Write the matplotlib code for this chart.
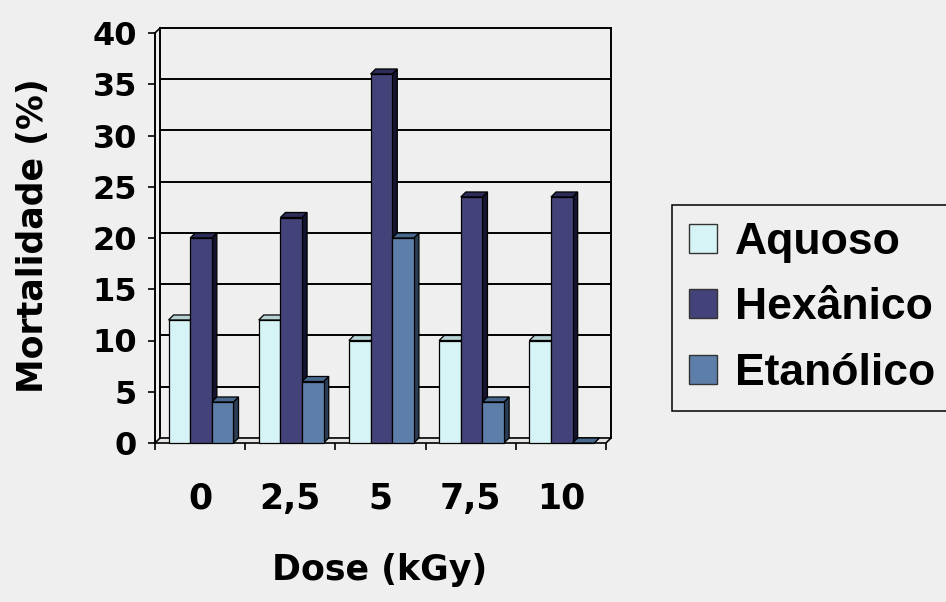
"""
Mortalidade por dose - colunas 3D no estilo Excel
"""
import matplotlib
matplotlib.use('Agg')
import matplotlib.pyplot as plt
from matplotlib.patches import Polygon, Patch

doses = ['0', '2,5', '5', '7,5', '10']
series = ['Aquoso', 'Hexânico', 'Etanólico']
aquoso = [12, 12, 10, 10, 10]
hexanico = [20, 22, 36, 24, 24]
etanolico = [4, 6, 20, 4, 0]

front_colors = ['#d6f3f5', '#434379', '#5d7ea8']
side_colors = ['#8eaeb1', '#141430', '#2b3d55']
top_colors = ['#b7d2d4', '#2c2c58', '#48688e']

BG = '#efefef'
DEPTH_X = 0.056
DEPTH_Y = 0.49
BAR_W = 0.24
OFFSETS = [0.15, 0.39, 0.63]
AXIS_FONT = ['DejaVu Sans']
LEGEND_FONT = ['Liberation Sans', 'DejaVu Sans']


def draw_bar(ax, x0, value, k, z):
    x1 = x0 + BAR_W
    side = Polygon([(x1, 0), (x1 + DEPTH_X, DEPTH_Y),
                    (x1 + DEPTH_X, value + DEPTH_Y), (x1, value)],
                   closed=True, facecolor=side_colors[k], edgecolor='black',
                   linewidth=0.9, zorder=z, clip_on=False)
    top = Polygon([(x0, value), (x0 + DEPTH_X, value + DEPTH_Y),
                   (x1 + DEPTH_X, value + DEPTH_Y), (x1, value)],
                  closed=True, facecolor=top_colors[k], edgecolor='black',
                  linewidth=0.9, zorder=z, clip_on=False)
    ax.add_patch(side)
    ax.add_patch(top)
    ax.bar(x0, value, BAR_W, align='edge', color=front_colors[k],
           edgecolor='black', linewidth=0.9, zorder=z + 0.5, clip_on=False)


def back_wall(ax, n):
    # floor
    floor = Polygon([(0, 0), (n, 0), (n + DEPTH_X, DEPTH_Y), (DEPTH_X, DEPTH_Y)],
                    closed=True, facecolor='#e4e4e4', edgecolor='black',
                    linewidth=1.2, zorder=1, clip_on=False)
    ax.add_patch(floor)
    # grid on the back wall
    for y in range(5, 45, 5):
        ax.plot([DEPTH_X, n + DEPTH_X], [y + DEPTH_Y, y + DEPTH_Y],
                color='black', linewidth=1.4, zorder=1, clip_on=False)
    ax.plot([DEPTH_X, DEPTH_X], [DEPTH_Y, 40 + DEPTH_Y],
            color='black', linewidth=1.4, zorder=1, clip_on=False)
    ax.plot([n + DEPTH_X, n + DEPTH_X], [DEPTH_Y, 40 + DEPTH_Y],
            color='black', linewidth=1.4, zorder=1, clip_on=False)
    ax.plot([0, DEPTH_X], [40, 40 + DEPTH_Y],
            color='black', linewidth=1.2, zorder=1, clip_on=False)


def main():
    fig = plt.figure(figsize=(9.46, 6.02), dpi=100, facecolor=BG)
    ax = fig.add_axes([155 / 946, 159 / 602, 451 / 946, 410 / 602])
    ax.set_facecolor('none')

    n = len(doses)
    back_wall(ax, n)

    values = [aquoso, hexanico, etanolico]
    z = 2
    for i in range(n):
        for k in range(len(series)):
            draw_bar(ax, i + OFFSETS[k], values[k][i], k, z)
            z += 1

    ax.set_xlim(0, n)
    ax.set_ylim(0, 40)
    for side in ('top', 'right', 'bottom'):
        ax.spines[side].set_visible(False)
    ax.spines['left'].set_linewidth(1.4)

    ax.set_yticks(range(0, 45, 5))
    ax.set_yticklabels([str(v) for v in range(0, 45, 5)],
                       fontfamily=AXIS_FONT, fontweight='bold', fontsize=23)
    ax.tick_params(axis='y', length=5, width=1.2, pad=8)

    ax.set_xticks(range(n + 1))
    ax.set_xticklabels([])
    ax.set_xticks([i + 0.5 for i in range(n)], minor=True)
    ax.set_xticklabels(doses, minor=True, fontfamily=AXIS_FONT,
                       fontweight='bold', fontsize=25)
    ax.tick_params(axis='x', which='major', length=5, width=1.2)
    ax.tick_params(axis='x', which='minor', length=0, pad=28)

    fig.text(33 / 946, 1 - 236 / 602, 'Mortalidade (%)', rotation=90,
             ha='center', va='center', fontfamily=AXIS_FONT,
             fontweight='bold', fontsize=25)
    fig.text(380 / 946, 1 - 570 / 602, 'Dose (kGy)', ha='center',
             va='center', fontfamily=AXIS_FONT, fontweight='bold',
             fontsize=25)

    handles = [Patch(facecolor=front_colors[k], edgecolor='#333333',
                     linewidth=1.0) for k in range(len(series))]
    leg = fig.legend(handles, series, loc='upper left',
                     bbox_to_anchor=(672 / 946, 1 - 205 / 602),
                     borderaxespad=0, borderpad=0.38, handlelength=0.63,
                     handleheight=0.63, handletextpad=0.4, labelspacing=0.55,
                     fancybox=False, framealpha=1, facecolor=BG,
                     edgecolor='black',
                     prop={'family': LEGEND_FONT, 'weight': 'bold', 'size': 32})
    leg.get_frame().set_linewidth(1.1)

    fig.savefig('out.png', dpi=100, facecolor=BG)


if __name__ == "__main__":
    main()
